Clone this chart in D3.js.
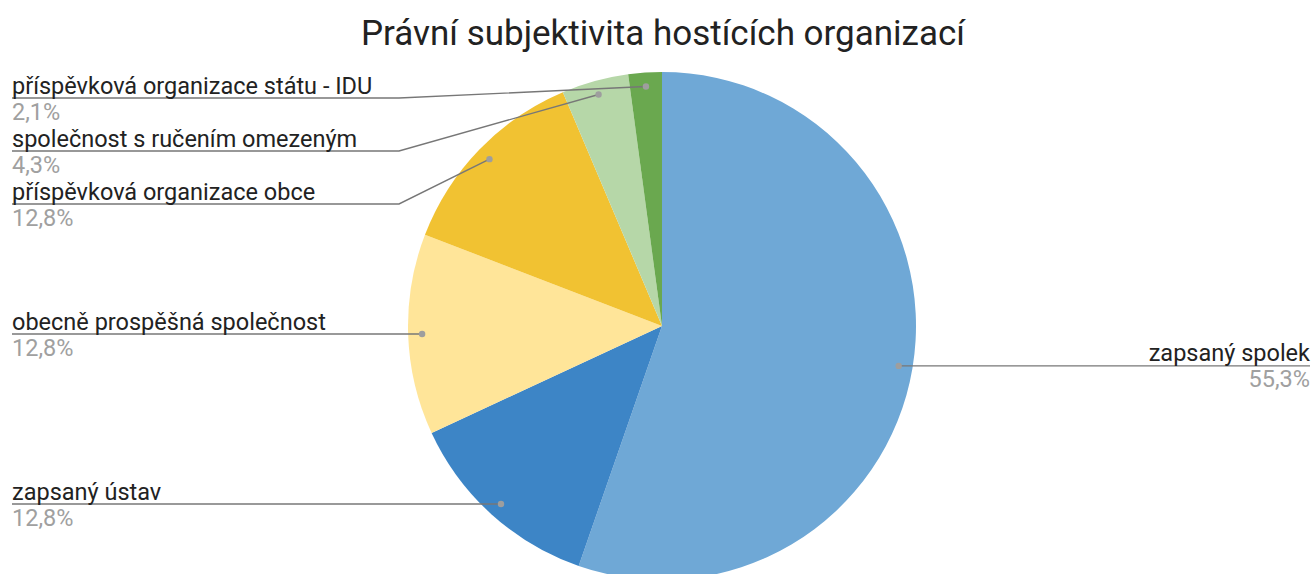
<!DOCTYPE html>
<html>
<head>
<meta charset="utf-8">
<script src="https://cdn.jsdelivr.net/npm/d3@7"></script>
<style>
  html, body { margin: 0; padding: 0; background: #fff; }
  svg { display: block; font-family: Roboto, "Noto Sans", sans-serif; }
</style>
</head>
<body>
<svg id="chart" width="1316" height="574"></svg>
<script>
const title = "Právní subjektivita hostících organizací";
const categories = [
  "zapsaný spolek",
  "zapsaný ústav",
  "obecně prospěšná společnost",
  "příspěvková organizace obce",
  "společnost s ručením omezeným",
  "příspěvková organizace státu - IDU"
];
const values = [26, 6, 6, 6, 2, 1];
const colors = ["#6fa8d6", "#3d85c6", "#ffe599", "#f1c232", "#b6d7a8", "#6aa84f"];

const W = 1316, H = 574;
const cx = 662, cy = 326, R = 254;
const svg = d3.select("#chart");

svg.append("text")
  .attr("x", 663).attr("y", 45)
  .attr("text-anchor", "middle")
  .attr("font-size", 35)
  .attr("fill", "#222")
  .text(title);

const data = categories.map((c, i) => ({ name: c, value: values[i], color: colors[i] }));
const total = d3.sum(values);
const pie = d3.pie().value(d => d.value).sort(null);
const arcs = pie(data);
const arc = d3.arc().innerRadius(0).outerRadius(R);

const g = svg.append("g").attr("transform", `translate(${cx},${cy})`);
g.selectAll("path").data(arcs).join("path")
  .attr("d", arc)
  .attr("fill", d => d.data.color);

const fmt = v => (Math.round(v * 1000) / 10).toFixed(1).replace(".", ",") + "%";

// label layout
const dotR = R * 0.945;
const items = arcs.map(a => {
  const m = (a.startAngle + a.endAngle) / 2;
  return {
    a, name: a.data.name, pct: fmt(a.data.value / total),
    dx: cx + dotR * Math.sin(m), dy: cy - dotR * Math.cos(m),
    side: m < Math.PI ? "right" : "left"
  };
});
const minY = 98, gap = 53;
["left", "right"].forEach(side => {
  const list = items.filter(d => d.side === side).sort((p, q) => p.dy - q.dy);
  let prev = -Infinity;
  list.forEach(d => {
    d.ly = Math.max(d.dy, prev + gap, minY);
    prev = d.ly;
  });
});

const leftX = 12, rightX = 1310, elbowL = 399, elbowR = 925;
const lab = svg.append("g");
items.forEach(d => {
  let pts;
  if (d.side === "left") {
    pts = Math.abs(d.ly - d.dy) < 0.5 ? [[d.dx, d.dy], [leftX, d.ly]]
      : [[d.dx, d.dy], [elbowL, d.ly], [leftX, d.ly]];
  } else {
    pts = Math.abs(d.ly - d.dy) < 0.5 ? [[d.dx, d.dy], [rightX, d.ly]]
      : [[d.dx, d.dy], [elbowR, d.ly], [rightX, d.ly]];
  }
  lab.append("path")
    .attr("d", d3.line()(pts))
    .attr("fill", "none")
    .attr("stroke", "#777")
    .attr("stroke-width", 1.4);
  lab.append("circle")
    .attr("cx", d.dx).attr("cy", d.dy).attr("r", 3.2)
    .attr("fill", "#9e9e9e");
  const tx = d.side === "left" ? leftX : rightX;
  const anchor = d.side === "left" ? "start" : "end";
  lab.append("text")
    .attr("x", tx).attr("y", d.ly - 4.5)
    .attr("text-anchor", anchor)
    .attr("font-size", 23.5)
    .attr("fill", "#222")
    .text(d.name);
  lab.append("text")
    .attr("x", tx).attr("y", d.ly + 21.5)
    .attr("text-anchor", anchor)
    .attr("font-size", 23.5)
    .attr("fill", "#a0a0a0")
    .text(d.pct);
});
</script>
</body>
</html>
